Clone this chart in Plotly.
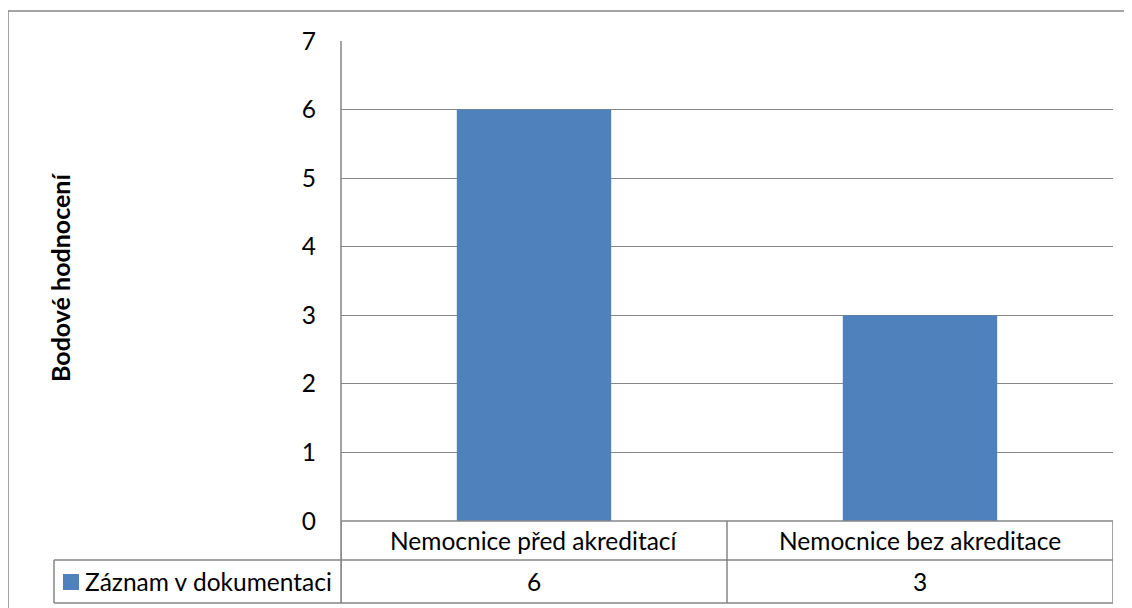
import plotly.graph_objects as go

categories = ["Nemocnice před akreditací", "Nemocnice bez akreditace"]
series_name = "Záznam v dokumentaci"
values = [6, 3]
y_ticks = [0, 1, 2, 3, 4, 5, 6, 7]
y_title = "Bodové hodnocení"

# page renders with 8px body offset; work in screenshot pixels and shift
OFF = 8
W, H = 1132 - OFF, 608 - OFF
L, R, T, B = 341 - OFF, 1113 - OFF, 41 - OFF, 521 - OFF
pw, ph = R - L, B - T

def px_x(px):
    return (px - OFF - L) / pw

def px_y(py):
    return (B - (py - OFF)) / ph

FONT = "Lato"
FS = 24.5
BLUE = "#4F81BD"
GRID = "#868686"

fig = go.Figure()
fig.add_trace(go.Bar(x=list(range(len(categories))), y=values, name=series_name,
                     marker=dict(color=BLUE, line=dict(width=0)), showlegend=False))

fig.update_layout(
    width=W, height=H,
    margin=dict(l=L, r=W - R, t=T, b=H - B, pad=0),
    paper_bgcolor="white", plot_bgcolor="white",
    bargap=0.6,
    font=dict(family=FONT, size=FS, color="black"),
    xaxis=dict(range=[-0.5, len(categories) - 0.5], showticklabels=False, showgrid=False,
               zeroline=False, showline=False, ticks=""),
    yaxis=dict(range=[0, 7], tickvals=y_ticks, showgrid=True, gridcolor=GRID, gridwidth=1.3,
               zeroline=False, showline=False, ticks="", ticklabelstandoff=24,
               tickfont=dict(family=FONT, size=FS, color="black")),
)

line = dict(color=GRID, width=1.5)
row1 = px_y(560)
row2 = px_y(603)
n = len(categories)
# outer chart border: only top and left edges fall inside the picture
fig.add_shape(type="line", xref="paper", yref="paper", x0=px_x(8), x1=px_x(1140),
              y0=px_y(11), y1=px_y(11), line=dict(color=GRID, width=1.5))
fig.add_shape(type="line", xref="paper", yref="paper", x0=px_x(8), x1=px_x(8),
              y0=px_y(11), y1=px_y(620), line=dict(color=GRID, width=1.5))
# axis line (left) extending through table
fig.add_shape(type="line", xref="paper", yref="paper", x0=0, x1=0, y0=1, y1=row2, line=line)
# baseline
fig.add_shape(type="line", xref="paper", yref="paper", x0=0, x1=1, y0=0, y1=0, line=line)
# table rows
for yy in (row1, row2):
    fig.add_shape(type="line", xref="paper", yref="paper", x0=px_x(54), x1=1, y0=yy, y1=yy, line=line)
fig.add_shape(type="line", xref="paper", yref="paper", x0=px_x(54), x1=px_x(54), y0=row1, y1=row2, line=line)
# category dividers
for i in range(n + 1):
    xv = i - 0.5
    fig.add_shape(type="line", xref="x", yref="paper", x0=xv, x1=xv, y0=0, y1=row2, line=line)

# table texts
for i, (c, v) in enumerate(zip(categories, values)):
    fig.add_annotation(x=i, y=(0 + row1) / 2, xref="x", yref="paper", text=c, showarrow=False,
                       xanchor="center", yanchor="middle", font=dict(size=FS))
    fig.add_annotation(x=i, y=(row1 + row2) / 2, xref="x", yref="paper", text=str(v), showarrow=False,
                       xanchor="center", yanchor="middle", font=dict(size=FS))

# legend key in table
fig.add_shape(type="rect", xref="paper", yref="paper", x0=px_x(63), x1=px_x(79),
              y0=px_y(590), y1=px_y(574), fillcolor=BLUE, line=dict(width=0))
fig.add_annotation(x=px_x(83), y=(row1 + row2) / 2, xref="paper", yref="paper", text=series_name,
                   showarrow=False, xanchor="left", yanchor="middle", font=dict(size=FS))

# y axis title
fig.add_annotation(x=px_x(60), y=px_y(278), xref="paper", yref="paper", text="<b>" + y_title + "</b>",
                   showarrow=False, textangle=-90, xanchor="center", yanchor="middle",
                   font=dict(size=25))

fig.write_html("out.html")
